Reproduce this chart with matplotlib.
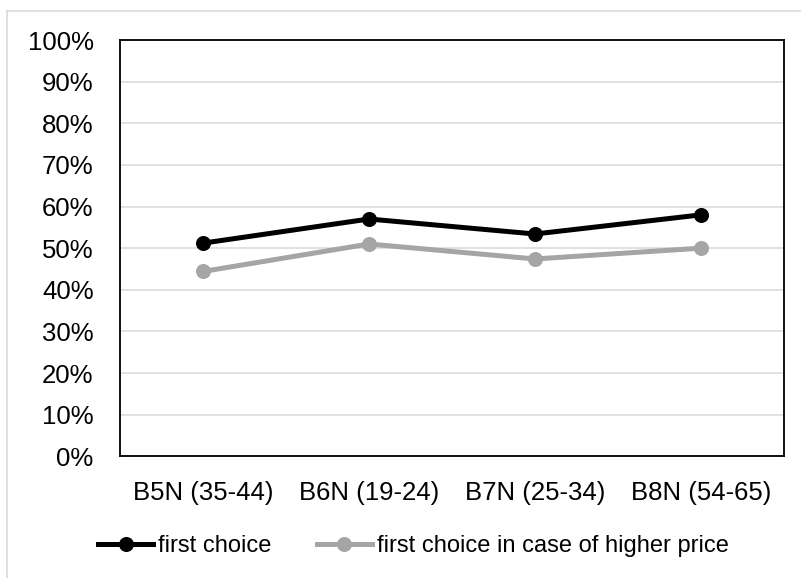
import matplotlib.pyplot as plt
from matplotlib.lines import Line2D
from matplotlib.ticker import PercentFormatter

plt.rcParams['font.family'] = ['Liberation Sans', 'DejaVu Sans']

groups = ['B5N (35-44)', 'B6N (19-24)', 'B7N (25-34)', 'B8N (54-65)']
first_choice = [51.2, 57.0, 53.4, 58.0]
higher_price = [44.4, 51.0, 47.4, 50.0]

fig = plt.figure(figsize=(8.01, 5.78), dpi=100)
ax = fig.add_axes([120 / 801, 1 - 456.3 / 578, 664 / 801, 416.3 / 578])

x = range(len(groups))
ax.plot(x, first_choice, color='black', lw=3.6, marker='o', ms=9.8,
        label='first choice', zorder=3)
ax.plot(x, higher_price, color='#A5A5A5', lw=3.6, marker='o', ms=9.8,
        label='first choice in case of higher price', zorder=2)

ax.set_xlim(-0.5, 3.5)
ax.set_ylim(0, 100)
ax.set_yticks(range(0, 101, 10))
ax.yaxis.set_major_formatter(PercentFormatter(decimals=0))
ax.set_xticks(list(x))
ax.set_xticklabels(groups)
ax.tick_params(axis='both', length=0, labelsize=18.5, colors='black')
ax.tick_params(axis='y', pad=19)
ax.tick_params(axis='x', pad=18)
ax.grid(axis='y', color='#D9D9D9', lw=1.1)
ax.set_axisbelow(True)
for s in ax.spines.values():
    s.set_color('black')
    s.set_linewidth(1.3)

fig.legend(loc='center', bbox_to_anchor=(413.5 / 801, 1 - 546 / 578), ncol=2,
           frameon=False, fontsize=17, handlelength=2.33, handletextpad=0.21,
           columnspacing=1.9, borderpad=0, borderaxespad=0)

# outer chart border (top and left only visible)
fig.add_artist(Line2D([7 / 801, 1], [1 - 11 / 578, 1 - 11 / 578],
                      transform=fig.transFigure, color='#D9D9D9', lw=1.2))
fig.add_artist(Line2D([7 / 801, 7 / 801], [0, 1 - 11 / 578],
                      transform=fig.transFigure, color='#D9D9D9', lw=1.2))

fig.savefig('out.png', dpi=100)
